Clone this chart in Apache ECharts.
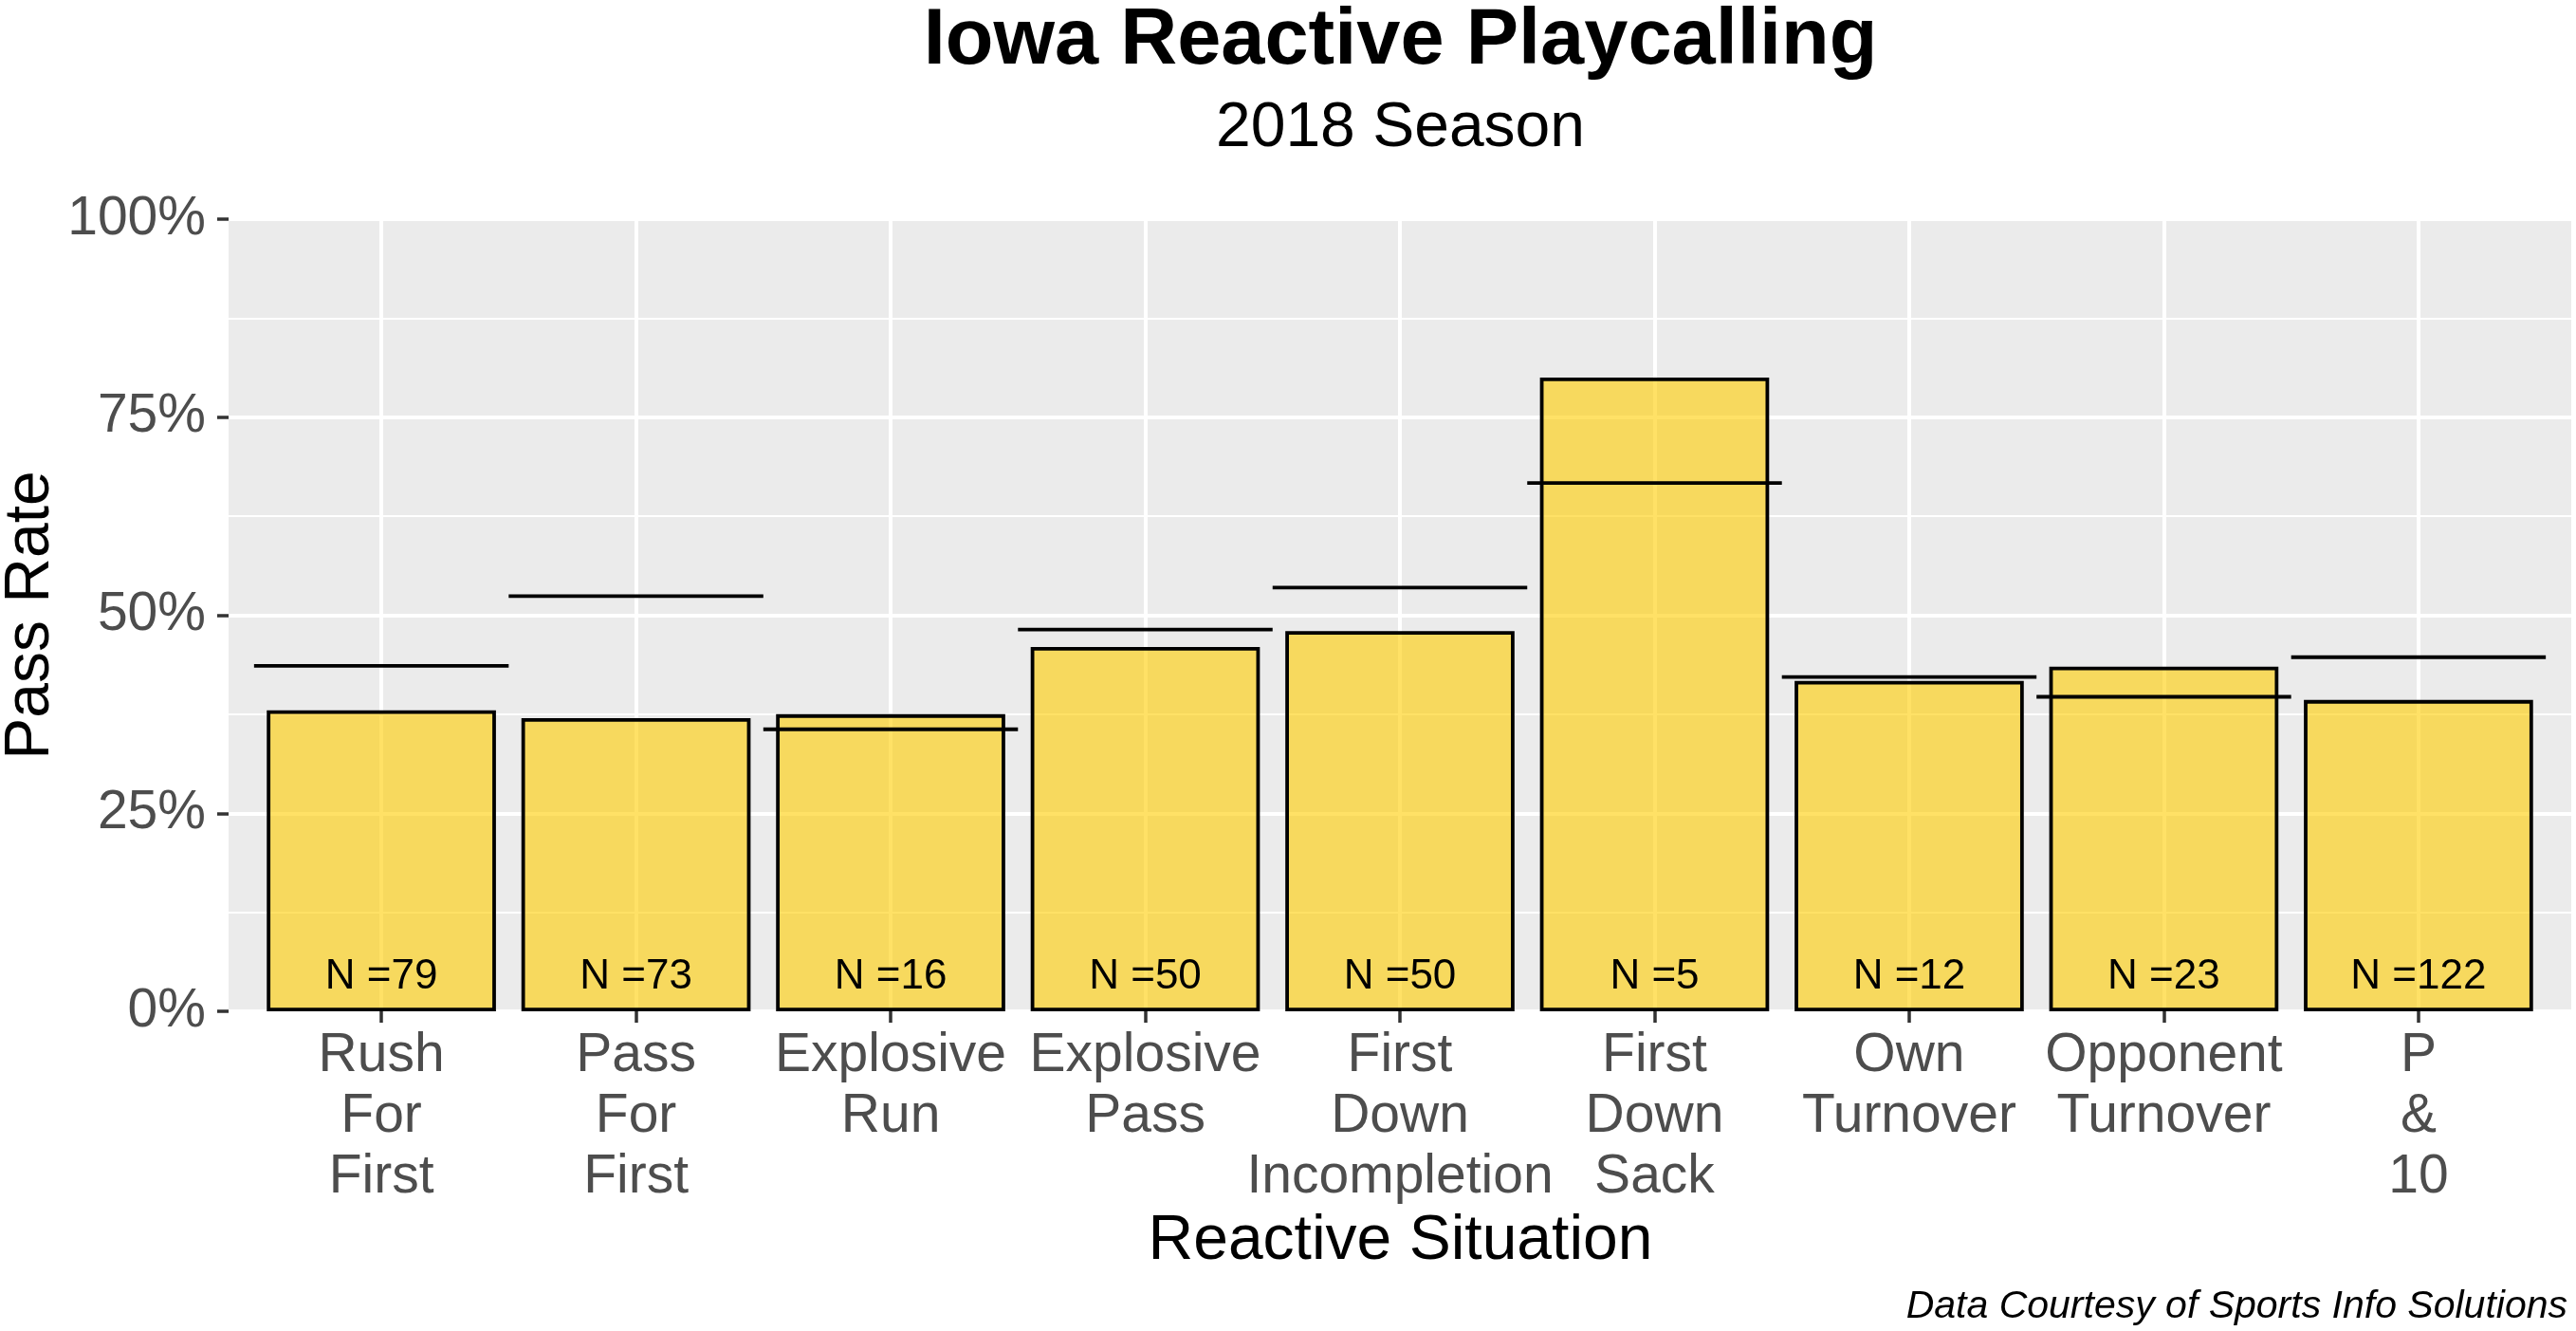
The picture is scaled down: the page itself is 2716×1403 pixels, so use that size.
<!DOCTYPE html>
<html><head><meta charset="utf-8">
<script src="https://cdn.jsdelivr.net/npm/echarts@6/dist/echarts.min.js"></script>
<style>html,body{margin:0;padding:0;background:#fff}#c{width:2716px;height:1403px}</style>
</head><body><div id="c"></div>
<script>
const categories = ['Rush For First','Pass For First','Explosive Run','Explosive Pass','First Down Incompletion','First Down Sack','Own Turnover','Opponent Turnover','P & 10'];
const passRate = [0.380, 0.370, 0.375, 0.460, 0.480, 0.800, 0.417, 0.435, 0.393];
const baselineRate = [0.436, 0.524, 0.356, 0.482, 0.535, 0.667, 0.422, 0.397, 0.447];
const playCounts = [79, 73, 16, 50, 50, 5, 12, 23, 122];
const yTickValues = [0, 0.25, 0.5, 0.75, 1];
const yTickLabels = ['0%', '25%', '50%', '75%', '100%'];

const FONT = '"Liberation Sans", Arial, sans-serif';
const W = 2716, H = 1403;
const gridLeft = 241, gridRight = 5, gridTop = 231, gridBottom = 337;
const unit = (W - gridLeft - gridRight) / 9.2;
const idx = categories.map((c, i) => i);

const chart = echarts.init(document.getElementById('c'), null, {renderer: 'canvas'});
chart.setOption({
  animation: false,
  backgroundColor: '#ffffff',
  grid: {left: gridLeft, right: gridRight, top: gridTop, bottom: gridBottom, show: true, backgroundColor: '#EBEBEB', borderWidth: 0, containLabel: false},
  xAxis: {
    type: 'value', min: -0.6, max: 8.6,
    axisLine: {show: false, onZero: false},
    axisTick: {show: true, customValues: idx, length: 12, lineStyle: {color: '#333333', width: 3.5}},
    axisLabel: {customValues: idx, formatter: v => categories[Math.round(v)].split(' ').join('\n'),
      fontSize: 57, lineHeight: 64, color: '#4D4D4D', margin: 15, fontFamily: FONT},
    splitLine: {show: true, lineStyle: {color: '#ffffff', width: 4}}
  },
  yAxis: {
    type: 'value', min: 0, max: 1, interval: 0.25,
    axisLine: {show: false, onZero: false},
    axisTick: {show: true, length: 12, lineStyle: {color: '#333333', width: 3.5}},
    axisLabel: {formatter: v => yTickLabels[yTickValues.indexOf(v)] ?? '', fontSize: 57, color: '#4D4D4D', margin: 24, fontFamily: FONT},
    splitLine: {show: true, lineStyle: {color: '#ffffff', width: 4}},
    minorTick: {show: false, splitNumber: 2},
    minorSplitLine: {show: true, lineStyle: {color: '#ffffff', width: 2}}
  },
  series: [
    {
      type: 'bar',
      data: idx.map(i => [i, passRate[i]]),
      barWidth: 0.9 * unit,
      itemStyle: {color: 'rgba(255,205,0,0.6)', borderColor: '#000000', borderWidth: 3.8},
      label: {show: true, position: 'insideBottom', distance: 14, formatter: p => 'N =' + playCounts[p.dataIndex],
        fontSize: 44, color: '#000000', fontFamily: FONT},
      z: 2
    },
    {
      type: 'custom',
      data: idx.map(i => [i, baselineRate[i]]),
      renderItem: (params, api) => {
        const x = api.value(0), y = api.value(1);
        const p1 = api.coord([x - 0.5, y]), p2 = api.coord([x + 0.5, y]);
        return {type: 'line', shape: {x1: p1[0], y1: p1[1], x2: p2[0], y2: p2[1]}, style: {stroke: '#000000', lineWidth: 3.8}};
      },
      z: 5
    }
  ],
  graphic: [
    {type: 'text', x: 1476.5, y: 44, style: {text: 'Iowa Reactive Playcalling', font: 'bold 83px ' + FONT, fill: '#000', align: 'center', verticalAlign: 'middle', textAlign: 'center', textVerticalAlign: 'middle'}},
    {type: 'text', x: 1476.5, y: 135.5, style: {text: '2018 Season', font: '66px ' + FONT, fill: '#000', align: 'center', verticalAlign: 'middle', textAlign: 'center', textVerticalAlign: 'middle'}},
    {type: 'text', x: 1476.5, y: 1309, style: {text: 'Reactive Situation', font: '66px ' + FONT, fill: '#000', align: 'center', verticalAlign: 'middle', textAlign: 'center', textVerticalAlign: 'middle'}},
    {type: 'text', x: 33, y: 648.5, rotation: Math.PI / 2, style: {text: 'Pass Rate', font: '66px ' + FONT, fill: '#000', align: 'center', verticalAlign: 'middle', textAlign: 'center', textVerticalAlign: 'middle'}},
    {type: 'text', x: 2707, y: 1378, style: {text: 'Data Courtesy of Sports Info Solutions', font: 'italic 41px ' + FONT, fill: '#000', align: 'right', verticalAlign: 'middle', textAlign: 'right', textVerticalAlign: 'middle'}}
  ]
});
</script></body></html>
